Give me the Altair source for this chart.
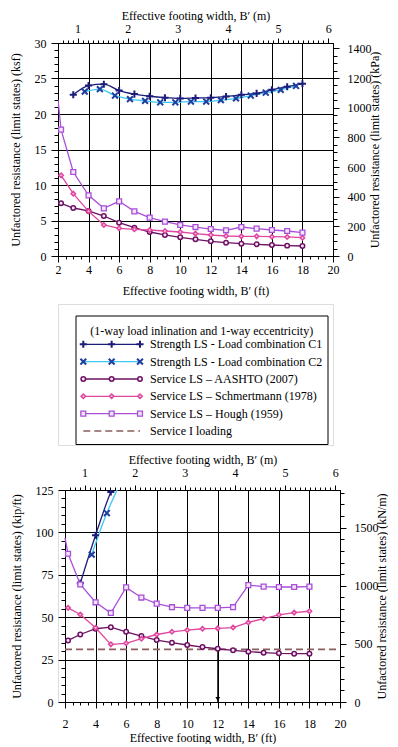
import altair as alt
import pandas as pd

FONT = "Liberation Serif"
FT_PER_M = 3.280839895
KPA_PER_KSF = 47.880259
KNM_PER_KIPFT = 14.5939029

# ---------------- values ----------------
FT_DOMAIN = [2, 20]
KSF_DOMAIN = [0, 30]
KIPFT_DOMAIN = [0, 125]

FT_TICKS = [2, 4, 6, 8, 10, 12, 14, 16, 18, 20]
M_TICKS = [1, 2, 3, 4, 5, 6]
KSF_TICKS = [0, 5, 10, 15, 20, 25, 30]
KPA_TICKS = [0, 200, 400, 600, 800, 1000, 1200, 1400]
KIPFT_TICKS = [0, 25, 50, 75, 100, 125]
KNM_TICKS = [0, 500, 1000, 1500]

# upper panel: unit resistance (ksf)
C1_X = [3, 4, 5, 6, 7, 8, 9, 10, 11, 12, 13, 14, 15, 16, 17, 18]
C1_KSF = [22.7, 24.0, 24.2, 23.3, 22.8, 22.5, 22.3, 22.2, 22.25, 22.3, 22.45, 22.7, 22.9, 23.4, 23.85, 24.25]
C2_X = [3.75, 4.74, 5.73, 6.71, 7.7, 8.69, 9.68, 10.7, 11.7, 12.66, 13.65, 14.62, 15.6, 16.58, 17.58]
C2_KSF = [23.15, 23.5, 22.6, 22.1, 21.85, 21.65, 21.65, 21.75, 21.75, 21.95, 22.2, 22.6, 23.0, 23.4, 23.95]
SV_X = [2.2, 3, 4, 5, 6, 7, 8, 9, 10, 11, 12, 13, 14, 15, 16, 17, 18]
AASHTO_KSF = [7.42, 6.76, 6.34, 5.63, 4.69, 3.99, 3.38, 2.96, 2.63, 2.35, 2.07, 1.88, 1.74, 1.64, 1.55, 1.46, 1.41]
SCHM_KSF = [11.36, 8.78, 6.29, 4.37, 3.9, 3.76, 3.66, 3.52, 3.38, 3.15, 2.96, 2.82, 2.77, 2.77, 2.72, 2.68, 2.58]
HOUGH_KSF = [17.8, 11.83, 8.54, 6.71, 7.7, 6.29, 5.4, 4.84, 4.37, 4.08, 3.8, 3.62, 4.08, 3.85, 3.66, 3.52, 3.29]
HOUGH_EDGE_X = 2.0          # where the Hough curve leaves the frame
HOUGH_EDGE_KSF = 22.0

# lower panel: resistance per unit length (kip/ft)
C1_X_B = [3, 4, 5, 6]
C1_KIPFT = [70.0, 98.3, 123.8, 140.0]
C2_X_B = [3.75, 4.74, 5.73]
C2_KIPFT = [86.9, 111.4, 131.0]
AASHTO_KIPFT = [36.3, 39.8, 43.2, 44.1, 41.4, 38.9, 36.5, 35.0, 33.6, 32.4, 31.4, 30.5, 29.7, 29.1, 28.7, 28.5, 28.5]
SCHM_KIPFT = [55.5, 51.6, 43.75, 34.0, 34.6, 37.3, 39.8, 41.4, 42.4, 43.2, 43.4, 43.9, 46.9, 49.2, 51.4, 52.7, 53.5]
HOUGH_KIPFT = [87.4, 69.3, 58.8, 52.5, 67.6, 61.6, 58.0, 55.9, 55.5, 55.5, 55.5, 55.9, 68.9, 68.0, 67.8, 67.8, 68.0]
HOUGH_EDGE_KIPFT = 96.7
SERVICE_I_KIPFT = 31.0
ARROW_X = 12

LEGEND_TITLE = "(1-way load inlination and 1-way eccentricity)"
LEGEND_KEYS = ["C1", "C2", "AASHTO", "SCHM", "HOUGH", "SVC"]
LEGEND_LABELS = [
    "Strength LS - Load combination C1",
    "Strength LS - Load combination C2",
    "Service LS \u2013 AASHTO (2007)",
    "Service LS \u2013 Schmertmann (1978)",
    "Service LS \u2013 Hough (1959)",
    "Service I loading",
]

# ---------------- styles ----------------
PLUS = "M-1,0L1,0M0,-1L0,1"
XMARK = "M-1,-1L1,1M-1,1L1,-1"
STYLE = {
    "C1": dict(line="#1c1c7a", stroke="#1c1c7a", fill=None, shape=PLUS, size=50, sw=2.0, lw=1.3, interp="monotone"),
    "C2": dict(line="#3cc8f5", stroke="#1f3f9f", fill=None, shape=XMARK, size=34, sw=2.0, lw=1.3, interp="monotone"),
    "AASHTO": dict(line="#6d0f63", stroke="#6d0f63", fill="#f6eaf4", shape="circle", size=20, sw=1.5, lw=1.3, interp="linear"),
    "SCHM": dict(line="#e0479e", stroke="#e0479e", fill="#f7c6e2", shape="diamond", size=20, sw=1.5, lw=1.3, interp="linear"),
    "HOUGH": dict(line="#a94fd8", stroke="#a94fd8", fill="#f2e6fa", shape="square", size=24, sw=1.3, lw=1.3, interp="linear"),
    "SVC": dict(line="#8c5e5e", dash=[7, 4], lw=1.6),
}
AXT = dict(labelFont=FONT, titleFont=FONT, labelFontSize=12, titleFontSize=12, titleFontWeight="normal",
           labelColor="black", titleColor="black", tickColor="black", domainColor="black", gridColor="black",
           gridOpacity=1, gridWidth=1, tickWidth=1, domainWidth=1, labelFlush=False, labelOverlap=False)

W_TOP, H_TOP = 275, 213
SHIFT_B = 7                      # lower panel frame starts 7 px further right
W_BOT, H_BOT = 275 + SHIFT_B, 212


def line_layer(xs, ys, st, xsc, ysc):
    df = pd.DataFrame({"x": xs, "y": ys})
    return alt.Chart(df).mark_line(color=st["line"], strokeWidth=st["lw"], interpolate=st["interp"], clip=True).encode(
        x=alt.X("x:Q", scale=xsc, axis=None), y=alt.Y("y:Q", scale=ysc, axis=None))


def point_kw(st):
    kw = dict(shape=st["shape"], size=st["size"], strokeWidth=st["sw"], stroke=st["stroke"], opacity=1)
    if st["fill"]:
        kw.update(filled=True, fill=st["fill"], fillOpacity=1)
    else:
        kw.update(filled=False)
    return kw


def point_layer(xs, ys, st, xsc, ysc):
    df = pd.DataFrame({"x": xs, "y": ys})
    return alt.Chart(df).mark_point(clip=True, **point_kw(st)).encode(
        x=alt.X("x:Q", scale=xsc, axis=None), y=alt.Y("y:Q", scale=ysc, axis=None))


def axis_layer(df, xsc, ysc, xaxis, yaxis):
    return alt.Chart(df).mark_point(opacity=0).encode(
        x=alt.X("x:Q", scale=xsc, axis=xaxis), y=alt.Y("y:Q", scale=ysc, axis=yaxis))


def frange(a, b, step):
    out, v = [], a
    while v <= b + 1e-9:
        out.append(round(v, 6))
        v += step
    return out


FT_MINOR = frange(2, 20, 0.5)
M_MINOR = [m * FT_PER_M for m in frange(0.7, 6.0, 0.1)]
M_MAJOR = [m * FT_PER_M for m in M_TICKS]
M_LABEL = "round(datum.value / 3.280839895)"


def axes_set(dummy, xsc, ysc, y_ticks, y_minor_step, y2_ticks, y2_minor, y2_factor, y_title, y2_title,
             y_offset=0, x_lab_pad=2, x_title_pad=9, top_lab_pad=6):
    x_major = alt.Axis(orient="bottom", values=FT_TICKS, format="d", tickSize=6, labelPadding=x_lab_pad, grid=True,
                       title="Effective footing width, B\u2032 (ft)", titlePadding=x_title_pad, **AXT)
    y_major = alt.Axis(orient="left", values=y_ticks, format="d", tickSize=7, labelPadding=5, grid=True,
                       title=y_title, titlePadding=12, offset=y_offset, **AXT)
    x_minor = alt.Axis(orient="bottom", values=FT_MINOR, tickSize=3, labels=False, domain=False, grid=False,
                       title=None, **AXT)
    y_minor = alt.Axis(orient="left", values=frange(y_ticks[0], y_ticks[-1], y_minor_step), tickSize=4,
                       labels=False, domain=False, grid=False, title=None, offset=y_offset, **AXT)
    x_top = alt.Axis(orient="top", values=M_MAJOR, labelExpr=M_LABEL, tickSize=5, labelPadding=top_lab_pad,
                     grid=False, title="Effective footing width, B\u2032 (m)", titlePadding=0, **AXT)
    x_top_minor = alt.Axis(orient="top", values=M_MINOR, tickSize=3, labels=False, domain=False, grid=False,
                           title=None, **AXT)
    y_right = alt.Axis(orient="right", values=[v / y2_factor for v in y2_ticks],
                       labelExpr="round(datum.value * %r)" % y2_factor, tickSize=6, labelPadding=8,
                       grid=False, title=y2_title, titleAngle=270, titlePadding=10, **AXT)
    y_right_minor = alt.Axis(orient="right", values=[v / y2_factor for v in y2_minor], tickSize=4,
                             labels=False, domain=False, grid=False, title=None, **AXT)
    return [
        axis_layer(dummy, xsc, ysc, x_minor, y_minor),
        axis_layer(dummy, xsc, ysc, x_top_minor, y_right_minor),
        axis_layer(dummy, xsc, ysc, x_major, y_major),
        axis_layer(dummy, xsc, ysc, x_top, y_right),
    ]


# ---------------- upper panel ----------------
xs_t = alt.Scale(domain=FT_DOMAIN, nice=False, zero=False)
ys_t = alt.Scale(domain=KSF_DOMAIN, nice=False)
dummy_t = pd.DataFrame({"x": SV_X, "y": AASHTO_KSF})

top_layers = axes_set(dummy_t, xs_t, ys_t, KSF_TICKS, 1, KPA_TICKS, frange(0, 1400, 50), KPA_PER_KSF,
                      "Unfactored resistance (limit states) (ksf)", "Unfactored resistance (limit states) (kPa)",
                      x_lab_pad=2, x_title_pad=10, top_lab_pad=3)
top_layers += [
    line_layer(C2_X, C2_KSF, STYLE["C2"], xs_t, ys_t),
    line_layer(C1_X, C1_KSF, STYLE["C1"], xs_t, ys_t),
    point_layer(C2_X, C2_KSF, STYLE["C2"], xs_t, ys_t),
    point_layer(C1_X, C1_KSF, STYLE["C1"], xs_t, ys_t),
    line_layer(SV_X, AASHTO_KSF, STYLE["AASHTO"], xs_t, ys_t),
    point_layer(SV_X, AASHTO_KSF, STYLE["AASHTO"], xs_t, ys_t),
    line_layer(SV_X, SCHM_KSF, STYLE["SCHM"], xs_t, ys_t),
    point_layer(SV_X, SCHM_KSF, STYLE["SCHM"], xs_t, ys_t),
    line_layer([HOUGH_EDGE_X] + SV_X, [HOUGH_EDGE_KSF] + HOUGH_KSF, STYLE["HOUGH"], xs_t, ys_t),
    point_layer(SV_X, HOUGH_KSF, STYLE["HOUGH"], xs_t, ys_t),
]
top = alt.layer(*top_layers).resolve_axis(x="independent", y="independent").properties(width=W_TOP, height=H_TOP)

# ---------------- lower panel ----------------
xs_b = alt.Scale(domain=FT_DOMAIN, range=[SHIFT_B, W_BOT], nice=False, zero=False)
ys_b = alt.Scale(domain=KIPFT_DOMAIN, nice=False)
dummy_b = pd.DataFrame({"x": SV_X, "y": AASHTO_KIPFT})

bot_layers = axes_set(dummy_b, xs_b, ys_b, KIPFT_TICKS, 5, KNM_TICKS, frange(0, 1800, 100), KNM_PER_KIPFT,
                      "Unfactored resistance (limit states) (kip/ft)", "Unfactored resistance (limit states) (kN/m)",
                      y_offset=-SHIFT_B, x_lab_pad=10, x_title_pad=3, top_lab_pad=6)
svc_df = pd.DataFrame({"x": [FT_DOMAIN[0]], "x2": [FT_DOMAIN[1]], "y": [SERVICE_I_KIPFT]})
arrow_df = pd.DataFrame({"x": [ARROW_X], "y": [SERVICE_I_KIPFT], "y2": [KIPFT_DOMAIN[0]]})
head_df = pd.DataFrame({"x": [ARROW_X], "y": [KIPFT_DOMAIN[0]]})
bot_layers += [
    alt.Chart(svc_df).mark_rule(color=STYLE["SVC"]["line"], strokeWidth=STYLE["SVC"]["lw"],
                                strokeDash=STYLE["SVC"]["dash"]).encode(
        x=alt.X("x:Q", scale=xs_b, axis=None), x2="x2:Q", y=alt.Y("y:Q", scale=ys_b, axis=None)),
    alt.Chart(arrow_df).mark_rule(color="black", strokeWidth=1).encode(
        x=alt.X("x:Q", scale=xs_b, axis=None), y=alt.Y("y:Q", scale=ys_b, axis=None), y2="y2:Q"),
    alt.Chart(head_df).mark_point(shape="triangle-down", size=22, filled=True, color="black", opacity=1,
                                  yOffset=-3).encode(
        x=alt.X("x:Q", scale=xs_b, axis=None), y=alt.Y("y:Q", scale=ys_b, axis=None)),
    line_layer(C2_X_B, C2_KIPFT, STYLE["C2"], xs_b, ys_b),
    line_layer(C1_X_B, C1_KIPFT, STYLE["C1"], xs_b, ys_b),
    point_layer(C2_X_B, C2_KIPFT, STYLE["C2"], xs_b, ys_b),
    point_layer(C1_X_B, C1_KIPFT, STYLE["C1"], xs_b, ys_b),
    line_layer(SV_X, AASHTO_KIPFT, STYLE["AASHTO"], xs_b, ys_b),
    point_layer(SV_X, AASHTO_KIPFT, STYLE["AASHTO"], xs_b, ys_b),
    line_layer(SV_X, SCHM_KIPFT, STYLE["SCHM"], xs_b, ys_b),
    point_layer(SV_X, SCHM_KIPFT, STYLE["SCHM"], xs_b, ys_b),
    line_layer([HOUGH_EDGE_X] + SV_X, [HOUGH_EDGE_KIPFT] + HOUGH_KIPFT, STYLE["HOUGH"], xs_b, ys_b),
    point_layer(SV_X, HOUGH_KIPFT, STYLE["HOUGH"], xs_b, ys_b),
]
bottom = alt.layer(*bot_layers).resolve_axis(x="independent", y="independent").properties(width=W_BOT, height=H_BOT)

# ---------------- legend box ----------------
LEG_Y0 = 302          # page y of legend panel top (layout estimate)
LEG_H = 141
BOX = dict(x=18, x2=270, y=314 - LEG_Y0, y2=LEG_H - 0.5)
ROW_Y = [342.3 - LEG_Y0, 429 - LEG_Y0]
SYM_X = [25.3, 82]
TEXT_X = 92
TITLE_XY = (143.7, 329 - LEG_Y0)

lx = alt.Scale(domain=[0, 2], range=SYM_X)
ly = alt.Scale(domain=[0, len(LEGEND_KEYS) - 1], range=ROW_Y)
leg_layers = [
    alt.Chart(pd.DataFrame({"t": [LEGEND_TITLE]})).mark_rect(fillOpacity=0, stroke="black", strokeWidth=1).encode(
        x=alt.value(BOX["x"]), x2=alt.value(BOX["x2"]), y=alt.value(BOX["y"]), y2=alt.value(BOX["y2"])),
    alt.Chart(pd.DataFrame({"t": [LEGEND_TITLE]})).mark_text(font=FONT, fontSize=12, align="center",
                                                              baseline="middle", color="black").encode(
        x=alt.value(TITLE_XY[0]), y=alt.value(TITLE_XY[1]), text="t:N"),
    alt.Chart(pd.DataFrame({"row": list(range(len(LEGEND_LABELS))), "label": LEGEND_LABELS})).mark_text(
        font=FONT, fontSize=12, align="left", baseline="middle", color="black").encode(
        x=alt.value(TEXT_X), y=alt.Y("row:Q", scale=ly, axis=None), text="label:N"),
]
for i, key in enumerate(LEGEND_KEYS):
    st = STYLE[key]
    df = pd.DataFrame({"pos": [0, 1, 2], "row": [i, i, i]})
    enc = dict(x=alt.X("pos:Q", scale=lx, axis=None), y=alt.Y("row:Q", scale=ly, axis=None))
    if key == "SVC":
        leg_layers.append(alt.Chart(df).mark_line(color=st["line"], strokeWidth=st["lw"], strokeDash=st["dash"]).encode(**enc))
    else:
        leg_layers.append(alt.Chart(df).mark_line(color=st["line"], strokeWidth=st["lw"]).encode(**enc))
        leg_layers.append(alt.Chart(df).mark_point(**point_kw(st)).encode(**enc))
legend = alt.layer(*leg_layers).properties(width=W_TOP, height=LEG_H)

chart = alt.vconcat(top, legend, bottom, spacing=6).properties(padding=0).configure_view(stroke=None).configure(
    font=FONT).configure_text(font=FONT)

chart.save("out.html", embed_options={"renderer": "svg", "actions": False})
